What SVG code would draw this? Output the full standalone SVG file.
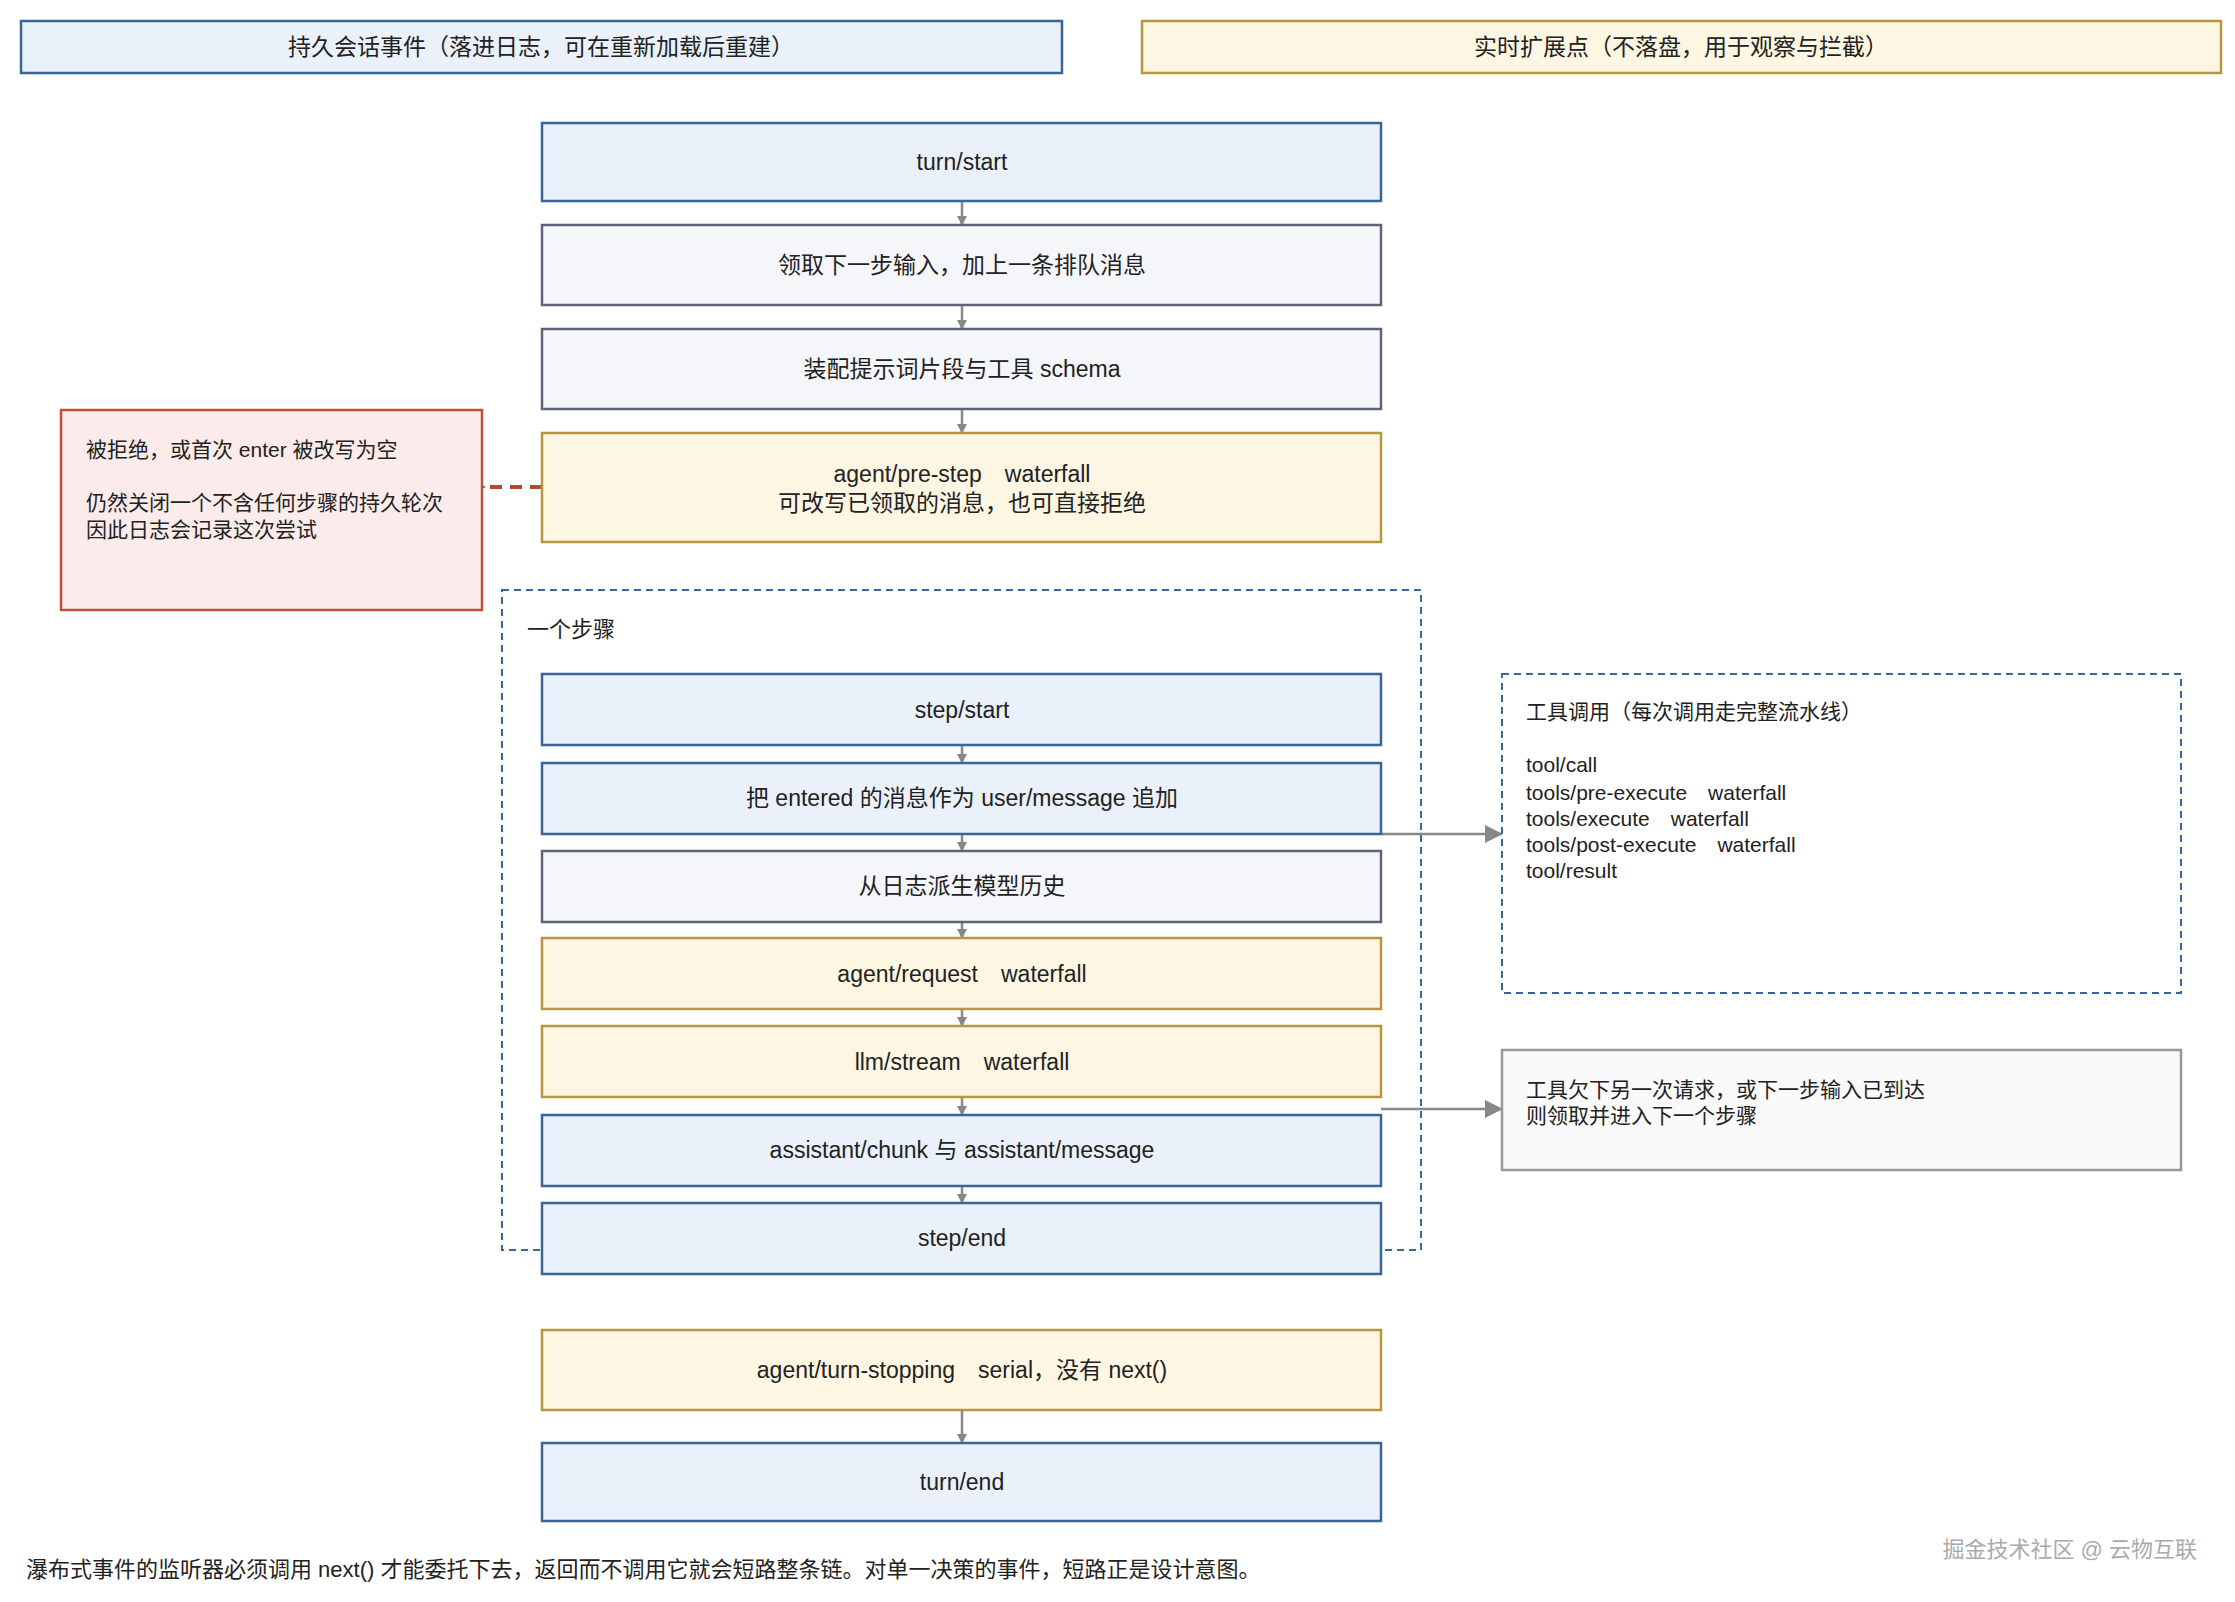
<svg xmlns="http://www.w3.org/2000/svg" width="2235" height="1602" viewBox="0 0 2235 1602">
<style>
text{font-family:"Liberation Sans","Noto Sans CJK SC",sans-serif;fill:#222;}
.c{text-anchor:middle;font-size:23px;}
.b{fill:#EAF1FB;stroke:#3A6595;stroke-width:2.5;}
.g{fill:#F4F6FA;stroke:#5F6478;stroke-width:2.5;}
.y{fill:#FDF6E3;stroke:#B8963E;stroke-width:2.5;}
.r{fill:#FBECEB;stroke:#C0503A;stroke-width:2.5;}
.d{fill:none;stroke:#3A6595;stroke-width:2;stroke-dasharray:7,5;}
.a{stroke:#888;stroke-width:2.5;fill:none;}
.l{font-size:21px;}
</style>
<defs>
<marker id="ar" markerWidth="10" markerHeight="10" refX="9" refY="5" orient="auto" markerUnits="userSpaceOnUse"><path d="M0,0L10,5L0,10z" fill="#888"/></marker>
<marker id="arg" markerWidth="18" markerHeight="18" refX="17" refY="9" orient="auto" markerUnits="userSpaceOnUse"><path d="M0,0L18,9L0,18z" fill="#888"/></marker>
<marker id="arr" markerWidth="22" markerHeight="20" refX="2" refY="10" orient="auto" markerUnits="userSpaceOnUse"><path d="M22,0L0,10L22,20z" fill="#B04A33"/></marker>
</defs>
<rect width="2235" height="1602" fill="#fff"/>
<g id="legend-durable"><rect class="b" x="21" y="21" width="1041" height="52"/><text class="c" x="541" y="55" font-size="22">持久会话事件（落进日志，可在重新加载后重建）</text></g>
<g id="legend-live"><rect class="y" x="1142" y="21" width="1079" height="52"/><text class="c" x="1681" y="55" font-size="22">实时扩展点（不落盘，用于观察与拦截）</text></g>
<g id="step-group"><rect class="d" x="502" y="590" width="919" height="660"/><text x="527" y="637" font-size="22">一个步骤</text></g>
<g id="connectors">
<line class="a" x1="962" y1="201" x2="962" y2="225" marker-end="url(#ar)"/>
<line class="a" x1="962" y1="305" x2="962" y2="329" marker-end="url(#ar)"/>
<line class="a" x1="962" y1="409" x2="962" y2="433" marker-end="url(#ar)"/>
<line class="a" x1="962" y1="745" x2="962" y2="763" marker-end="url(#ar)"/>
<line class="a" x1="962" y1="834" x2="962" y2="851" marker-end="url(#ar)"/>
<line class="a" x1="962" y1="922" x2="962" y2="938" marker-end="url(#ar)"/>
<line class="a" x1="962" y1="1009" x2="962" y2="1026" marker-end="url(#ar)"/>
<line class="a" x1="962" y1="1097" x2="962" y2="1115" marker-end="url(#ar)"/>
<line class="a" x1="962" y1="1186" x2="962" y2="1203" marker-end="url(#ar)"/>
<line class="a" x1="962" y1="1410" x2="962" y2="1443" marker-end="url(#ar)"/>
<line class="a" x1="1381" y1="834" x2="1502" y2="834" marker-end="url(#arg)"/>
<line class="a" x1="1381" y1="1109" x2="1502" y2="1109" marker-end="url(#arg)"/>
<line x1="542" y1="487" x2="484" y2="487" stroke="#B04A33" stroke-width="4" stroke-dasharray="12,8" marker-end="url(#arr)"/>
</g>
<g id="turn-start"><rect class="b" x="542" y="123" width="839" height="78"/><text class="c" x="962" y="170">turn/start</text></g>
<g id="take-input"><rect class="g" x="542" y="225" width="839" height="80"/><text class="c" x="962" y="273">领取下一步输入，加上一条排队消息</text></g>
<g id="assemble"><rect class="g" x="542" y="329" width="839" height="80"/><text class="c" x="962" y="377">装配提示词片段与工具 schema</text></g>
<g id="pre-step"><rect class="y" x="542" y="433" width="839" height="109"/><text class="c" x="962" y="482">agent/pre-step　waterfall</text><text class="c" x="962" y="511">可改写已领取的消息，也可直接拒绝</text></g>
<g id="rejected"><rect class="r" x="61" y="410" width="421" height="200"/><text x="86" y="457" font-size="21">被拒绝，或首次 enter 被改写为空</text><text x="86" y="510" font-size="21">仍然关闭一个不含任何步骤的持久轮次</text><text x="86" y="537" font-size="21">因此日志会记录这次尝试</text></g>
<g id="step-start"><rect class="b" x="542" y="674" width="839" height="71"/><text class="c" x="962" y="718" font-size="22">step/start</text></g>
<g id="append"><rect class="b" x="542" y="763" width="839" height="71"/><text class="c" x="962" y="806" font-size="22">把 entered 的消息作为 user/message 追加</text></g>
<g id="derive"><rect class="g" x="542" y="851" width="839" height="71"/><text class="c" x="962" y="894" font-size="22">从日志派生模型历史</text></g>
<g id="request"><rect class="y" x="542" y="938" width="839" height="71"/><text class="c" x="962" y="982" font-size="22">agent/request　waterfall</text></g>
<g id="stream"><rect class="y" x="542" y="1026" width="839" height="71"/><text class="c" x="962" y="1070" font-size="22">llm/stream　waterfall</text></g>
<g id="assistant"><rect class="b" x="542" y="1115" width="839" height="71"/><text class="c" x="962" y="1158" font-size="22">assistant/chunk 与 assistant/message</text></g>
<g id="step-end"><rect class="b" x="542" y="1203" width="839" height="71"/><text class="c" x="962" y="1246" font-size="22">step/end</text></g>
<g id="tools"><rect class="d" x="1502" y="674" width="679" height="319"/><text class="l" x="1526" y="719">工具调用（每次调用走完整流水线）</text><text class="l" x="1526" y="772">tool/call</text><text class="l" x="1526" y="800">tools/pre-execute　waterfall</text><text class="l" x="1526" y="826">tools/execute　waterfall</text><text class="l" x="1526" y="852">tools/post-execute　waterfall</text><text class="l" x="1526" y="878">tool/result</text></g>
<g id="next-step"><rect fill="#FAFAFA" stroke="#999" stroke-width="2.5" x="1502" y="1050" width="679" height="120"/><text class="l" x="1526" y="1097">工具欠下另一次请求，或下一步输入已到达</text><text class="l" x="1526" y="1123">则领取并进入下一个步骤</text></g>
<g id="turn-stopping"><rect class="y" x="542" y="1330" width="839" height="80"/><text class="c" x="962" y="1378">agent/turn-stopping　serial，没有 next()</text></g>
<g id="turn-end"><rect class="b" x="542" y="1443" width="839" height="78"/><text class="c" x="962" y="1490">turn/end</text></g>
<text x="26" y="1577" font-size="22">瀑布式事件的监听器必须调用 next() 才能委托下去，返回而不调用它就会短路整条链。对单一决策的事件，短路正是设计意图。</text>
<text x="2197" y="1557" font-size="22" text-anchor="end" fill="#aaa" style="fill:#aaa">掘金技术社区 @ 云物互联</text>
</svg>
